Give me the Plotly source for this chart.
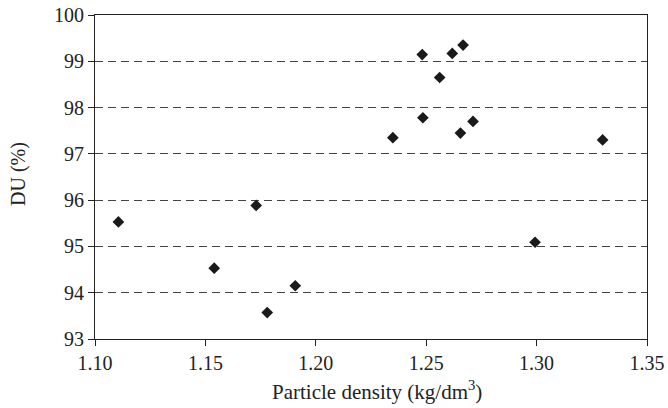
import plotly.graph_objects as go

density = [1.1106, 1.154, 1.173, 1.178, 1.1907, 1.2349, 1.2482, 1.2485, 1.2561,
           1.2618, 1.2667, 1.2655, 1.2712, 1.2993, 1.3299]
du = [95.53, 94.53, 95.885, 93.57, 94.15, 97.35, 99.145, 97.78, 98.65,
      99.17, 99.35, 97.45, 97.70, 95.09, 97.30]

x_ticks = [1.10, 1.15, 1.20, 1.25, 1.30, 1.35]
x_ticklabels = ["1.10", "1.15", "1.20", "1.25", "1.30", "1.35"]
y_ticks = [93, 94, 95, 96, 97, 98, 99, 100]

font = "Liberation Serif"
fs = 20

fig = go.Figure()
fig.add_trace(go.Scatter(
    x=density, y=du, mode="markers",
    marker=dict(symbol="diamond", size=9, color="#1a1a1a", line=dict(width=0)),
    showlegend=False,
))

fig.update_layout(
    width=668, height=408,
    margin=dict(l=95, r=21, t=15, b=69, autoexpand=False),
    paper_bgcolor="white", plot_bgcolor="white",
    font=dict(family=font, size=fs, color="#222"),
    xaxis=dict(
        range=[1.10, 1.35], tickvals=x_ticks, ticktext=x_ticklabels,
        showgrid=False, zeroline=False, automargin=False,
        showline=True, linecolor="#222", linewidth=1, mirror=True,
        ticks="outside", ticklen=6, tickcolor="#222",
        ticklabeloverflow="allow",
        tickfont=dict(family=font, size=fs, color="#222"),
    ),
    yaxis=dict(
        range=[93, 100], tickvals=y_ticks,
        showgrid=True, gridcolor="#444", gridwidth=1, griddash="8px,5px",
        zeroline=False, automargin=False,
        showline=True, linecolor="#222", linewidth=1, mirror=True,
        ticks="outside", ticklen=6, tickcolor="#222",
        ticklabeloverflow="allow",
        tickfont=dict(family=font, size=fs, color="#222"),
    ),
    annotations=[
        dict(text="Particle density (kg/dm<sup>3</sup>)", xref="paper", yref="paper",
             x=0.5, y=0, yshift=-51, xshift=6, xanchor="center", yanchor="middle",
             showarrow=False, font=dict(family=font, size=21, color="#222")),
        dict(text="DU (%)", xref="paper", yref="paper",
             x=0, y=0.5, xshift=-77, yshift=3, xanchor="center", yanchor="middle",
             textangle=-90, showarrow=False, font=dict(family=font, size=fs, color="#222")),
    ],
)

fig.write_html("out.html", config={"displayModeBar": False},
               post_script="document.body.style.margin='0';")
